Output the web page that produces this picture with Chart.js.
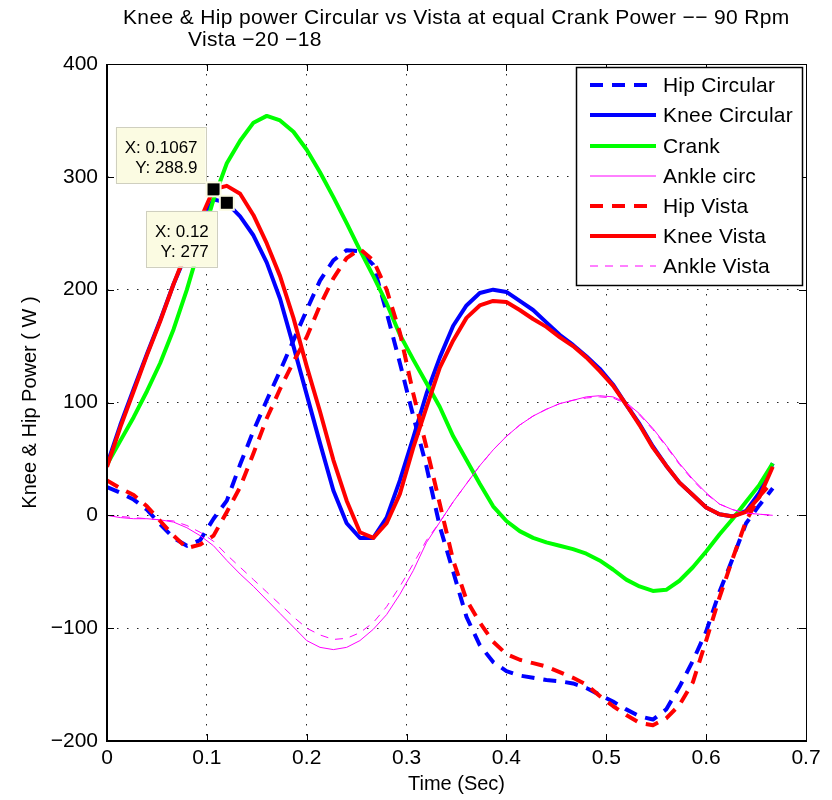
<!DOCTYPE html>
<html>
<head>
<meta charset="utf-8">
<script src="https://cdn.jsdelivr.net/npm/chart.js@4/dist/chart.umd.min.js"></script>
<style>
  html, body { margin: 0; padding: 0; background: #fff; }
  #wrap { width: 832px; height: 800px; position: relative; }
</style>
</head>
<body>
<div id="wrap"><canvas id="c" width="832" height="800"></canvas></div>
<script>
const titleLine1 = "Knee & Hip power Circular vs Vista at equal Crank Power \u2212\u2212 90 Rpm";
const titleLine2 = "Vista \u221220 \u221218";
const xAxisTitle = "Time (Sec)";
const yAxisTitle = "Knee & Hip Power ( W )";
const xTicks = [0, 0.1, 0.2, 0.3, 0.4, 0.5, 0.6, 0.7];
const yTicks = [-200, -100, 0, 100, 200, 300, 400];

const timeSec = [0.0000,0.0133,0.0267,0.0400,0.0533,0.0667,0.0800,0.0933,0.1067,0.1200,
  0.1333,0.1467,0.1600,0.1733,0.1867,0.2000,0.2133,0.2267,0.2400,0.2533,
  0.2667,0.2800,0.2933,0.3067,0.3200,0.3333,0.3467,0.3600,0.3733,0.3867,
  0.4000,0.4133,0.4267,0.4400,0.4533,0.4667,0.4800,0.4933,0.5067,0.5200,
  0.5333,0.5467,0.5600,0.5733,0.5867,0.6000,0.6133,0.6267,0.6400,0.6533,0.6667];

const hipCircular = [25,20,14,5,-8,-20,-27,-22,-3,13,
  45,75,102,128,155,182,208,226,235,234,
  222,180,135,88,43,-10,-50,-90,-115,-130,
  -138,-142,-144,-146,-147,-149,-153,-159,-165,-172,
  -178,-181,-172,-152,-129,-103,-68,-38,-7,9,24];

const kneeCircular = [45,80,112,143,173,205,233,258,280,277,
  265,248,224,192,150,107,64,22,-7,-20,
  -20,-2,31,69,108,140,168,186,197,200,
  198,190,182,171,160,151,141,130,116,98,
  81,61,44,29,18,7,1,-1,4,20,46];

const crank = [45,66,87,110,135,165,200,240,280,312,
  332,348,354,350,340,324,304,282,259,235,
  212,188,160,138,117,96,70,49,28,8,
  -5,-14,-20,-24,-27,-30,-34,-40,-48,-57,
  -63,-67,-66,-58,-46,-32,-17,-3,12,27,46];

const ankleCirc = [0,-2,-3,-3,-4,-6,-11,-18,-27,-40,
  -52,-63,-75,-87,-99,-111,-117,-119,-117,-111,
  -101,-88,-70,-49,-24,-6,12,28,44,58,
  70,80,88,94,99,102,105,106,105,100,
  90,77,62,46,32,20,10,5,2,1,0];

const hipVista = [31,24,18,8,-5,-18,-29,-26,-18,3,
  25,55,86,112,136,158,186,210,228,236,
  226,200,162,108,60,10,-40,-75,-95,-112,
  -123,-128,-131,-134,-139,-144,-150,-160,-169,-177,
  -184,-186,-180,-168,-148,-111,-73,-38,-5,17,30];

const kneeVista = [43,78,110,142,172,205,235,262,289,292,
  285,266,241,212,175,132,92,49,13,-15,
  -20,-7,19,60,96,131,155,175,186,190,
  189,182,174,167,158,150,140,128,115,98,
  80,60,44,29,18,7,1,-1,3,16,43];

const ankleVista = [0,-1,-2,-3,-4,-5,-9,-15,-23,-35,
  -46,-57,-68,-79,-90,-100,-106,-110,-109,-104,
  -95,-81,-63,-43,-22,-6,12,28,44,58,
  70,80,88,94,99,102,104,105,104,99,
  89,76,61,45,31,19,10,5,2,1,0];

const seriesNames = ["Hip Circular","Knee Circular","Crank","Ankle circ","Hip Vista","Knee Vista","Ankle Vista"];
const seriesValues = [hipCircular, kneeCircular, crank, ankleCirc, hipVista, kneeVista, ankleVista];
const seriesColors = ["#0000ff","#0000ff","#00ff00","#ff00ff","#ff0000","#ff0000","#ff00ff"];
const seriesWidths = [4,4,4,1,4,4,1];
const seriesDash = [[13,9],[],[],[],[13,9],[],[8,7]];

const dataTipPoints = [
  { x: 0.1067, y: 288.9, label: ["X: 0.1067", "Y: 288.9"], box: "above" },
  { x: 0.12, y: 277, label: ["X: 0.12", "Y: 277"], box: "below" }
];

const FONT = "'Liberation Sans', Arial, Helvetica, sans-serif";
const minus = s => String(s).replace('-', '\u2212');

const datasets = seriesNames.map((name, i) => ({
  label: name,
  data: timeSec.map((t, k) => ({ x: t, y: seriesValues[i][k] })),
  borderColor: seriesColors[i],
  backgroundColor: seriesColors[i],
  borderWidth: seriesWidths[i],
  borderDash: seriesDash[i],
  pointRadius: 0,
  tension: 0,
  fill: false,
  order: seriesNames.length - i,
  borderCapStyle: 'butt',
  borderJoinStyle: 'round'
}));

const overlay = {
  id: 'overlay',
  afterDatasetsDraw(chart) {
    const ctx = chart.ctx;
    const a = chart.chartArea;
    const xs = chart.scales.x, ys = chart.scales.y;
    ctx.save();
    // inner tick marks on all four sides
    ctx.strokeStyle = '#000';
    ctx.lineWidth = 1;
    const tl = 7;
    ctx.beginPath();
    xTicks.forEach(v => {
      const px = Math.round(xs.getPixelForValue(v)) + 0.5;
      ctx.moveTo(px, a.bottom); ctx.lineTo(px, a.bottom - tl);
      ctx.moveTo(px, a.top); ctx.lineTo(px, a.top + tl);
    });
    yTicks.forEach(v => {
      const py = Math.round(ys.getPixelForValue(v)) + 0.5;
      ctx.moveTo(a.left, py); ctx.lineTo(a.left + tl, py);
      ctx.moveTo(a.right, py); ctx.lineTo(a.right - tl, py);
    });
    ctx.stroke();
    // box
    ctx.lineWidth = 1;
    ctx.strokeRect(Math.round(a.left) + 0.5, Math.round(a.top) + 0.5, Math.round(a.right - a.left), Math.round(a.bottom - a.top));
    ctx.lineWidth = 2;
    ctx.beginPath();
    ctx.moveTo(a.left, a.top); ctx.lineTo(a.left, a.bottom); ctx.lineTo(a.right, a.bottom);
    ctx.stroke();

    // legend
    const lx = 576, ly = 67, lw = 226, lh = 218;
    ctx.fillStyle = '#fff';
    ctx.fillRect(lx, ly, lw, lh);
    ctx.strokeStyle = '#000';
    ctx.lineWidth = 1.5;
    ctx.strokeRect(lx + 0.5, ly + 0.5, lw, lh);
    ctx.font = '21px ' + FONT;
    ctx.letterSpacing = '0.2px';
    ctx.textBaseline = 'middle';
    ctx.textAlign = 'left';
    const rowY = [85, 115, 146, 176, 206, 236, 266];
    chart.data.datasets.forEach((ds, i) => {
      const y = rowY[i];
      ctx.save();
      ctx.strokeStyle = ds.borderColor;
      ctx.lineWidth = ds.borderWidth;
      ctx.setLineDash(ds.borderDash || []);
      ctx.lineCap = 'butt';
      ctx.beginPath();
      ctx.moveTo(590, y); ctx.lineTo(656, y);
      ctx.stroke();
      ctx.restore();
      ctx.fillStyle = '#000';
      ctx.fillText(ds.label, 663, y + 1);
    });
    ctx.letterSpacing = '0px';

    // data tips
    dataTipPoints.forEach(p => {
      const mx = xs.getPixelForValue(p.x), my = ys.getPixelForValue(p.y);
      ctx.font = '17px ' + FONT;
      const w = Math.max(...p.label.map(s => ctx.measureText(s).width)) + 17;
      const h = 56;
      let bx, by;
      if (p.box === 'above') { bx = mx - 8 - w; by = my - 6 - h; }
      else { bx = mx - 10 - w; by = my + 8; }
      ctx.fillStyle = '#fbfbe2';
      ctx.fillRect(bx, by, w, h);
      ctx.strokeStyle = '#cfcfbf';
      ctx.lineWidth = 1;
      ctx.strokeRect(Math.round(bx) + 0.5, Math.round(by) + 0.5, Math.round(w), h);
      ctx.fillStyle = '#000';
      ctx.textAlign = 'right';
      ctx.textBaseline = 'alphabetic';
      ctx.fillText(p.label[0], bx + w - 8, by + 26);
      ctx.fillText(p.label[1], bx + w - 8, by + 46);
      // marker
      ctx.fillStyle = '#fbfbe2';
      ctx.fillRect(mx - 8, my - 8, 16, 16);
      ctx.fillStyle = '#000';
      ctx.fillRect(mx - 6, my - 6, 12, 12);
    });

    // title
    ctx.fillStyle = '#000';
    ctx.textAlign = 'left';
    ctx.textBaseline = 'alphabetic';
    ctx.font = '21px ' + FONT;
    ctx.letterSpacing = '0.35px';
    ctx.fillText(titleLine1, 123, 24);
    ctx.fillText(titleLine2, 188, 46);
    ctx.letterSpacing = '0px';
    ctx.restore();
  }
};

new Chart(document.getElementById('c'), {
  type: 'line',
  data: { datasets },
  options: {
    responsive: false,
    animation: false,
    devicePixelRatio: 1,
    layout: { padding: { top: 64, right: 26, left: 0, bottom: 0 } },
    plugins: { legend: { display: false }, tooltip: { enabled: false }, title: { display: false } },
    scales: {
      x: {
        type: 'linear',
        min: 0, max: 0.7,
        afterFit(s) { s.height = 59; },
        afterBuildTicks(s) { s.ticks = xTicks.map(v => ({ value: v })); },
        ticks: {
          font: { family: FONT, size: 21 }, color: '#000', padding: 5, maxRotation: 0,
          callback: v => minus(Number(v.toFixed(1)).toString())
        },
        grid: { color: '#222', lineWidth: 1, drawTicks: false },
        border: { display: false, dash: [1.5, 8.5] },
        title: { display: true, text: xAxisTitle, font: { family: FONT, size: 20 }, color: '#000', padding: { top: 0, bottom: 4 } }
      },
      y: {
        type: 'linear',
        min: -200, max: 400,
        afterFit(s) { s.width = 107; },
        afterBuildTicks(s) { s.ticks = yTicks.map(v => ({ value: v })); },
        ticks: {
          font: { family: FONT, size: 21 }, color: '#000', padding: 9,
          callback: v => minus(v)
        },
        grid: { color: '#222', lineWidth: 1, drawTicks: false },
        border: { display: false, dash: [1.5, 8.5] },
        title: { display: true, text: yAxisTitle, font: { family: FONT, size: 20 }, color: '#000', padding: { top: 18, bottom: 0 } }
      }
    }
  },
  plugins: [overlay]
});
</script>
</body>
</html>
